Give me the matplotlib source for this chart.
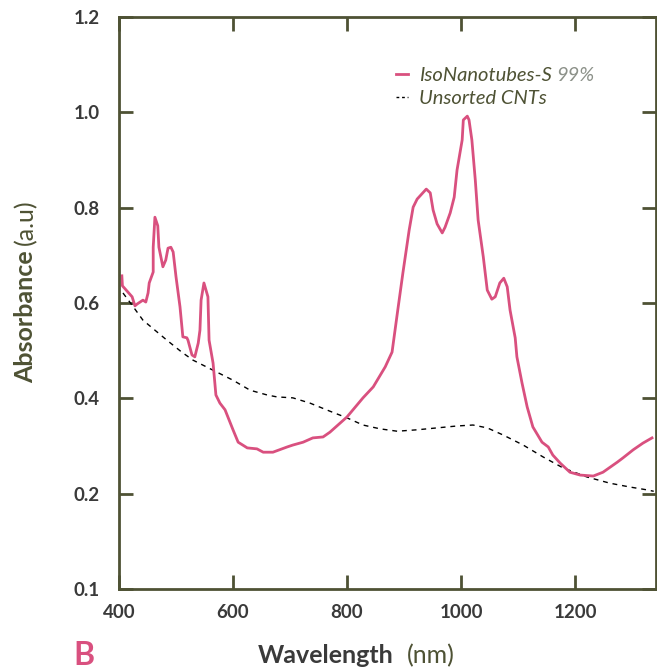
import matplotlib
matplotlib.use("Agg")
import matplotlib.pyplot as plt
from matplotlib.lines import Line2D

# ---- data ----
iso_x = [405, 406, 423, 428, 432, 442, 447, 451, 453, 460, 460, 463, 468, 470, 477, 482, 486, 491, 495,
         500, 507, 512, 519, 521, 528, 533, 539, 542, 544, 549, 556, 558, 565, 570, 577, 586, 600, 609,
         625, 642, 653, 670, 695, 705, 723, 740, 758, 770, 800, 828, 846, 867, 879, 889, 898, 909, 916,
         923, 939, 946, 951, 958, 967, 972, 981, 988, 993, 1002, 1004, 1011, 1014, 1019, 1025, 1030,
         1039, 1046, 1054, 1060, 1068, 1075, 1081, 1086, 1095, 1098, 1107, 1116, 1126, 1142, 1153, 1161,
         1174, 1191, 1209, 1232, 1249, 1274, 1284, 1302, 1319, 1335]
iso_y = [0.657, 0.636, 0.613, 0.594, 0.598, 0.606, 0.602, 0.621, 0.642, 0.665, 0.717, 0.780, 0.762, 0.717,
         0.676, 0.690, 0.715, 0.717, 0.707, 0.655, 0.592, 0.529, 0.527, 0.522, 0.491, 0.487, 0.516, 0.543,
         0.606, 0.642, 0.613, 0.522, 0.474, 0.407, 0.390, 0.376, 0.334, 0.308, 0.296, 0.294, 0.287, 0.287,
         0.298, 0.302, 0.308, 0.317, 0.319, 0.329, 0.361, 0.401, 0.424, 0.466, 0.497, 0.585, 0.663, 0.753,
         0.801, 0.818, 0.839, 0.831, 0.795, 0.766, 0.747, 0.759, 0.789, 0.822, 0.879, 0.942, 0.984, 0.992,
         0.984, 0.942, 0.858, 0.774, 0.697, 0.627, 0.608, 0.613, 0.642, 0.652, 0.634, 0.585, 0.527, 0.487,
         0.432, 0.382, 0.340, 0.308, 0.298, 0.281, 0.264, 0.245, 0.239, 0.237, 0.245, 0.266, 0.275, 0.292,
         0.306, 0.317]

uns_x = [407, 425, 442, 467, 484, 510, 530, 565, 600, 630, 660, 677, 705, 735, 770, 800, 828, 858, 888,
         923, 958, 993, 1021, 1046, 1074, 1109, 1144, 1179, 1221, 1261, 1296, 1326, 1338]
uns_y = [0.621, 0.592, 0.564, 0.539, 0.522, 0.497, 0.480, 0.459, 0.438, 0.417, 0.407, 0.403, 0.401, 0.390,
         0.373, 0.359, 0.344, 0.336, 0.331, 0.334, 0.338, 0.342, 0.344, 0.338, 0.323, 0.302, 0.277, 0.254,
         0.235, 0.222, 0.214, 0.208, 0.205]

x_ticks = [400, 600, 800, 1000, 1200]
y_ticks = [0.0, 0.2, 0.4, 0.6, 0.8, 1.0, 1.2]
y_tick_labels = ["0.1", "0.2", "0.4", "0.6", "0.8", "1.0", "1.2"]

PINK = "#d9507f"
OLIVE = "#4e5234"
DARK = "#3a3a3a"
GREY = "#8c9189"

plt.rcParams['font.family'] = ['Lato', 'DejaVu Sans']

fig = plt.figure(figsize=(6.57, 6.71), dpi=100)
ax = fig.add_axes([119/657, 82/671, (656-119)/657, (589-17)/671])

ax.plot(uns_x, uns_y, color="black", lw=1.0, ls=(0, (3.5, 3.5)), label="Unsorted CNTs")
ax.plot(iso_x, iso_y, color=PINK, lw=2.0, label="IsoNanotubes-S")

ax.set_xlim(400, 1342)
ax.set_ylim(0, 1.2)
ax.set_xticks(x_ticks)
ax.set_yticks(y_ticks)
ax.set_yticklabels(y_tick_labels)

for s in ax.spines.values():
    s.set_color(OLIVE)
    s.set_linewidth(2.0)

ax.tick_params(direction='in', length=10, width=2, color=OLIVE,
               top=True, right=True, labelsize=13.5, labelcolor=DARK, pad=14)
ax.tick_params(axis='x', pad=11)
for lab in ax.get_xticklabels() + ax.get_yticklabels():
    lab.set_fontweight('bold')

handles = [Line2D([], [], color=PINK, lw=2.0),
           Line2D([], [], color="black", lw=1.0, ls=(0, (2, 2)))]
leg = ax.legend(handles, ["IsoNanotubes-S", "Unsorted CNTs"], frameon=False,
                loc='upper left', bbox_to_anchor=(0.482, 0.945), handlelength=0.6,
                handletextpad=0.55, labelspacing=0.3,
                prop={'style': 'italic', 'size': 14.5})
for t in leg.get_texts():
    t.set_color(OLIVE)

fig.canvas.draw()
W, H = fig.bbox.width, fig.bbox.height
bb = leg.get_texts()[0].get_window_extent()
fig.text((bb.x1 + 4) / W, bb.y0 / H, "99%", color=GREY, fontsize=14.5,
         style='italic', ha='left', va='bottom')

# axis labels
t1 = fig.text(258/657, 8/671, "Wavelength", fontsize=18, fontweight='bold', color=DARK,
              ha='left', va='baseline')
t2 = fig.text(33/657, (671-383)/671, "Absorbance", fontsize=18, fontweight='bold', color=OLIVE,
              rotation=90, rotation_mode='anchor', ha='left', va='baseline')
fig.text(73/657, 6/671, "B", fontsize=23, fontweight='bold', color=PINK, ha='left', va='baseline')
fig.canvas.draw()
b1 = t1.get_window_extent()
fig.text((b1.x1 + 13) / W, 8/671, "(nm)", fontsize=18, color=OLIVE, ha='left', va='baseline')
b2 = t2.get_window_extent()
fig.text(33/657, (b2.y1 + 5) / H, "(a.u)", fontsize=18, color=OLIVE,
         rotation=90, rotation_mode='anchor', ha='left', va='baseline')

fig.savefig("out.png", dpi=100)
